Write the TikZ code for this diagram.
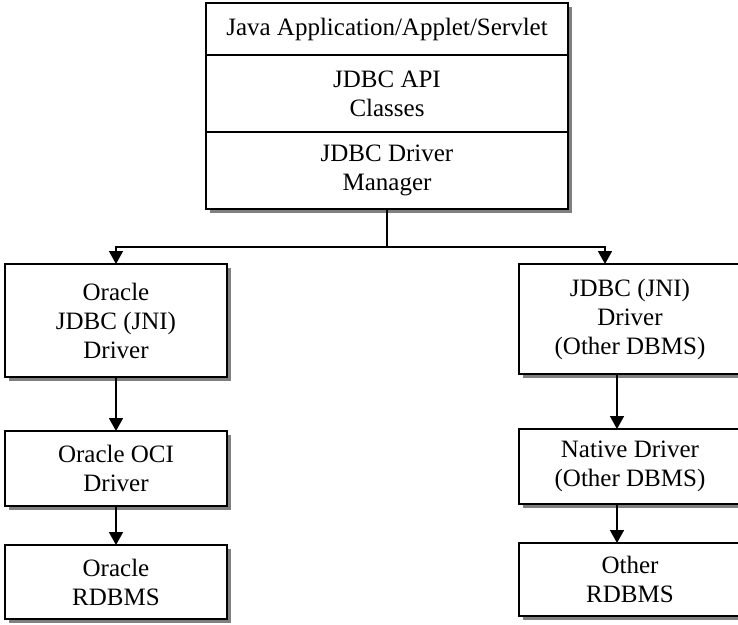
\documentclass[tikz,border=0pt]{standalone}
\usepackage{fontspec}
\setmainfont{Liberation Serif}
\usetikzlibrary{positioning,arrows.meta,shadows}

\begin{document}
\begin{tikzpicture}[x=1pt, y=-1pt,
  every node/.style={font=\fontsize{25}{29}\selectfont, align=center, inner sep=0pt, outer sep=0pt},
  layer/.style={draw, line width=1.6pt, fill=white, minimum width=362pt,
    drop shadow={shadow xshift=4pt, shadow yshift=-4pt, fill=gray, opacity=1}},
  drvbox/.style={layer, minimum width=222pt, anchor=north west},
  link/.style={line width=1.6pt},
  flow/.style={link, -{Triangle[width=14pt, length=13pt]}}]
  \useasboundingbox (0,0) rectangle (738,624);
  % stack at the top
  \node[layer, minimum height=52pt, anchor=north] (app) at (387,3) {Java Application/Applet/Servlet};
  \node[layer, minimum height=77pt, below=0pt of app] (api) {JDBC API\\Classes};
  \node[layer, minimum height=77pt, below=0pt of api] (mgr) {JDBC Driver\\Manager};
  % oracle side
  \node[drvbox, minimum height=113pt] (orajni) at (5,264) {Oracle\\JDBC (JNI)\\Driver};
  \node[drvbox, minimum height=75pt] (oraoci) at (5,431) {Oracle OCI\\Driver};
  \node[drvbox, minimum height=74pt] (oradb) at (5,545) {Oracle\\RDBMS};
  % other dbms side
  \node[drvbox, minimum height=110pt] (othjni) at (519,264) {JDBC (JNI)\\Driver\\(Other DBMS)};
  \node[drvbox, minimum height=75pt] (othnat) at (519,429) {Native Driver\\(Other DBMS)};
  \node[drvbox, minimum height=73pt] (othdb) at (519,543) {Other\\RDBMS};
  \coordinate (bus) at (387,247);
  \draw[link] (mgr.south) -- (bus);
  \draw[flow] (bus) -| (orajni.north);
  \draw[flow] (bus) -| ([xshift=-25pt]othjni.north);
  \draw[flow] (orajni) -- (oraoci);
  \draw[flow] (oraoci) -- (oradb);
  \draw[flow] ([xshift=-13pt]othjni.south) -- ([xshift=-13pt]othnat.north);
  \draw[flow] ([xshift=-13pt]othnat.south) -- ([xshift=-13pt]othdb.north);
\end{tikzpicture}
\end{document}
